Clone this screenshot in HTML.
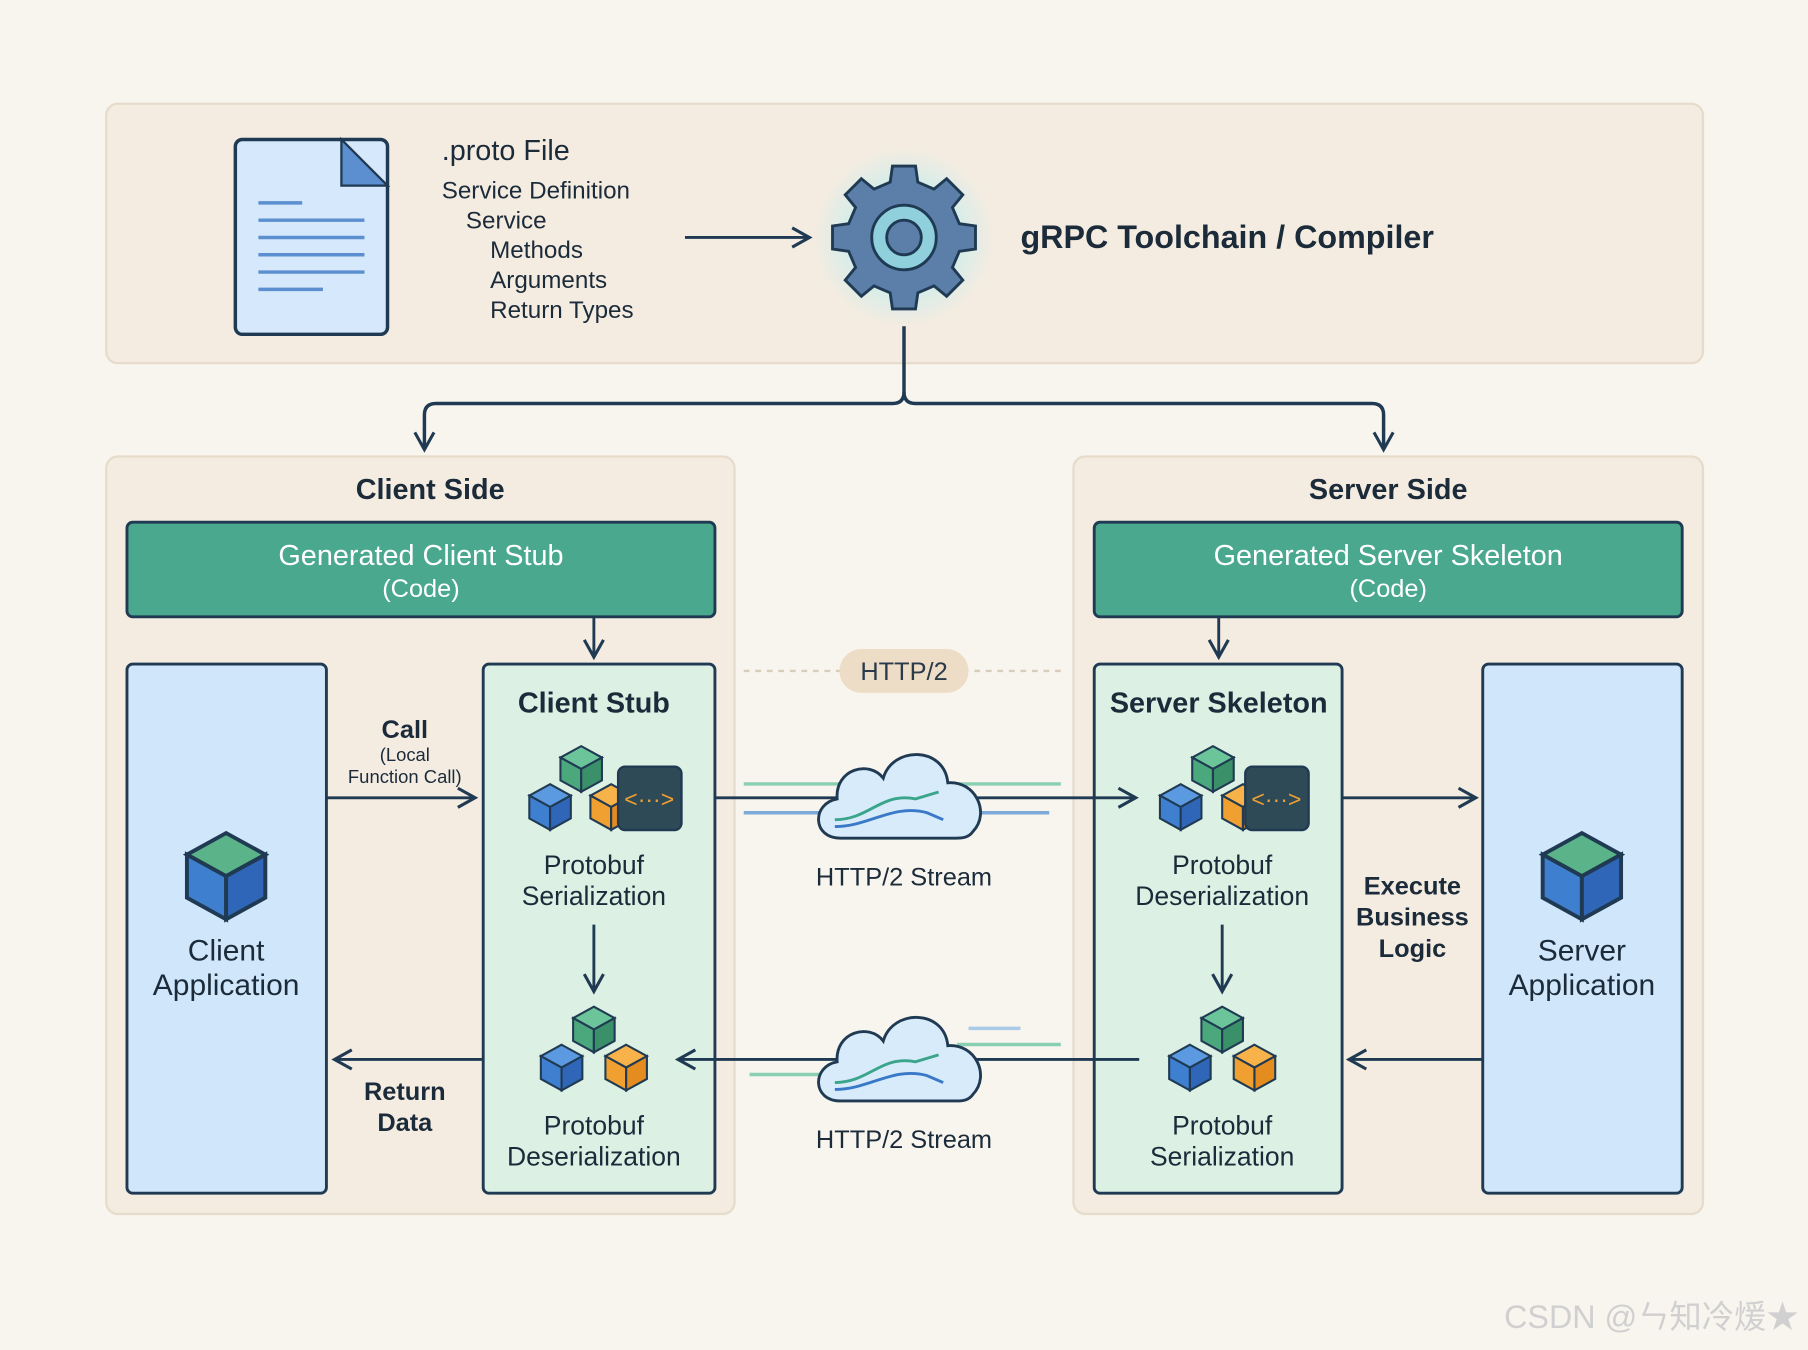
<!DOCTYPE html>
<html><head><meta charset="utf-8"><style>
html,body{margin:0;padding:0;background:#f8f5ee;}
svg{display:block;font-family:"Liberation Sans","Noto Sans CJK SC",sans-serif;}
</style></head><body>
<svg width="1808" height="1350" viewBox="0 0 1568 1171" xmlns="http://www.w3.org/2000/svg">
<defs>
<radialGradient id="glow"><stop offset="0.6" stop-color="#bfeef0" stop-opacity="0.6"/><stop offset="1" stop-color="#bfeef0" stop-opacity="0"/></radialGradient>
<marker id="ah2" viewBox="0 0 12 12" refX="10" refY="6" markerWidth="20" markerHeight="20" markerUnits="userSpaceOnUse" orient="auto"><path d="M1,1 L10,6 L1,11" fill="none" stroke="#1f3a52" stroke-width="1.6"/></marker>
<g id="cube">
<path d="M0,-22 L20,-11 L0,0 L-20,-11 Z" fill="#5bb38a" stroke="#1f3a52" stroke-width="2"/>
<path d="M-20,-11 L0,0 L0,22 L-20,11 Z" fill="#3f7fd0" stroke="#1f3a52" stroke-width="2"/>
<path d="M20,-11 L0,0 L0,22 L20,11 Z" fill="#2f66b8" stroke="#1f3a52" stroke-width="2"/>
</g>
<g id="cubeO">
<path d="M0,-22 L20,-11 L0,0 L-20,-11 Z" fill="#f7b24a" stroke="#1f3a52" stroke-width="2"/>
<path d="M-20,-11 L0,0 L0,22 L-20,11 Z" fill="#f0a030" stroke="#1f3a52" stroke-width="2"/>
<path d="M20,-11 L0,0 L0,22 L20,11 Z" fill="#e58c1f" stroke="#1f3a52" stroke-width="2"/>
</g>
<g id="cubeG">
<path d="M0,-22 L20,-11 L0,0 L-20,-11 Z" fill="#6cc59a" stroke="#1f3a52" stroke-width="2"/>
<path d="M-20,-11 L0,0 L0,22 L-20,11 Z" fill="#4aa87c" stroke="#1f3a52" stroke-width="2"/>
<path d="M20,-11 L0,0 L0,22 L20,11 Z" fill="#3a9068" stroke="#1f3a52" stroke-width="2"/>
</g>
<g id="cubeB">
<path d="M0,-22 L20,-11 L0,0 L-20,-11 Z" fill="#5b9ae0" stroke="#1f3a52" stroke-width="2"/>
<path d="M-20,-11 L0,0 L0,22 L-20,11 Z" fill="#3f7fd0" stroke="#1f3a52" stroke-width="2"/>
<path d="M20,-11 L0,0 L0,22 L20,11 Z" fill="#2f66b8" stroke="#1f3a52" stroke-width="2"/>
</g>
<g id="cloud">
<path d="M-55,30 C-80,30 -80,0 -58,-4 C-60,-30 -30,-38 -18,-22 C-10,-50 35,-50 38,-18 C62,-20 75,8 60,24 C56,30 50,30 45,30 Z" fill="#d7ebfa" stroke="#1f3a52" stroke-width="2.5"/>
<path d="M-60,14 C-30,14 -20,-10 10,-4 L30,-10" fill="none" stroke="#3aa58a" stroke-width="2.5"/>
<path d="M-60,20 C-30,20 -10,0 20,8 L34,14" fill="none" stroke="#3a78c8" stroke-width="2.5"/>
</g>
</defs>
<rect x="0" y="0" width="1568" height="1171" fill="#f8f5ee"/>
<rect x="92" y="90" width="1385" height="225" rx="10" fill="#f4ece1" stroke="#e7dccb" stroke-width="2"/>
<rect x="204" y="121" width="132" height="169" rx="6" fill="#d6e8fb" stroke="#1f3a52" stroke-width="3"/>
<path d="M296,121 L336,161 L296,161 Z" fill="#5b8fd0" stroke="#1f3a52" stroke-width="2"/>
<g stroke="#5b8fd0" stroke-width="3">
<line x1="224" y1="176" x2="262" y2="176"/><line x1="224" y1="191" x2="316" y2="191"/><line x1="224" y1="206" x2="316" y2="206"/><line x1="224" y1="221" x2="316" y2="221"/><line x1="224" y1="236" x2="316" y2="236"/><line x1="224" y1="251" x2="280" y2="251"/>
</g>
<g fill="#1c2b3a" font-size="21">
<text x="383" y="139" font-size="25">.proto File</text>
<text x="383" y="172">Service Definition</text>
<text x="404" y="198">Service</text>
<text x="425" y="224">Methods</text>
<text x="425" y="250">Arguments</text>
<text x="425" y="276">Return Types</text>
</g>
<line x1="594" y1="206" x2="702" y2="206" stroke="#1f3a52" stroke-width="2.5" marker-end="url(#ah2)"/>
<g transform="translate(784,206)">
<circle r="78" fill="url(#glow)"/>
<path d="M-10,-62 L10,-62 L12,-48 L26,-42 L37,-51 L51,-37 L42,-26 L48,-12 L62,-10 L62,10 L48,12 L42,26 L51,37 L37,51 L26,42 L12,48 L10,62 L-10,62 L-12,48 L-26,42 L-37,51 L-51,37 L-42,26 L-48,12 L-62,10 L-62,-10 L-48,-12 L-42,-26 L-51,-37 L-37,-51 L-26,-42 L-12,-48 Z" fill="#5b7fa8" stroke="#1f3a52" stroke-width="2.5"/>
<circle r="28" fill="#8fd0dc" stroke="#1f3a52" stroke-width="2.5"/>
<circle r="15" fill="#5b7fa8" stroke="#1f3a52" stroke-width="2.5"/>
</g>
<text x="885" y="215" font-size="28" fill="#1c2b3a" font-weight="600">gRPC Toolchain / Compiler</text>
<path d="M784,283 L784,340 Q784,350 774,350 L378,350 Q368,350 368,360 L368,390" fill="none" stroke="#1f3a52" stroke-width="3" marker-end="url(#ah2)"/>
<path d="M784,340 Q784,350 794,350 L1190,350 Q1200,350 1200,360 L1200,390" fill="none" stroke="#1f3a52" stroke-width="3" marker-end="url(#ah2)"/>
<rect x="92" y="396" width="545" height="657" rx="10" fill="#f4ece1" stroke="#e7dccb" stroke-width="2"/>
<rect x="931" y="396" width="546" height="657" rx="10" fill="#f4ece1" stroke="#e7dccb" stroke-width="2"/>
<text x="373" y="433" font-size="25" text-anchor="middle" fill="#1c2b3a" font-weight="600">Client Side</text>
<text x="1204" y="433" font-size="25" text-anchor="middle" fill="#1c2b3a" font-weight="600">Server Side</text>
<rect x="110" y="453" width="510" height="82" rx="5" fill="#4aa88f" stroke="#1f3a52" stroke-width="2.5"/>
<rect x="949" y="453" width="510" height="82" rx="5" fill="#4aa88f" stroke="#1f3a52" stroke-width="2.5"/>
<g fill="#fff" text-anchor="middle" font-size="25">
<text x="365" y="490">Generated Client Stub</text><text x="365" y="518" font-size="22">(Code)</text>
<text x="1204" y="490">Generated Server Skeleton</text><text x="1204" y="518" font-size="22">(Code)</text>
</g>
<line x1="515" y1="535" x2="515" y2="570" stroke="#1f3a52" stroke-width="2.5" marker-end="url(#ah2)"/>
<line x1="1057" y1="535" x2="1057" y2="570" stroke="#1f3a52" stroke-width="2.5" marker-end="url(#ah2)"/>
<rect x="110" y="576" width="173" height="459" rx="5" fill="#cfe6fb" stroke="#1f3a52" stroke-width="2.5"/>
<rect x="1286" y="576" width="173" height="459" rx="5" fill="#cfe6fb" stroke="#1f3a52" stroke-width="2.5"/>
<rect x="419" y="576" width="201" height="459" rx="5" fill="#dcf0e4" stroke="#1f3a52" stroke-width="2.5"/>
<rect x="949" y="576" width="215" height="459" rx="5" fill="#dcf0e4" stroke="#1f3a52" stroke-width="2.5"/>
<use href="#cube" transform="translate(196,760) scale(1.7)"/>
<use href="#cube" transform="translate(1372,760) scale(1.7)"/>
<g fill="#1c2b3a" font-size="26" text-anchor="middle">
<text x="196" y="833">Client</text><text x="196" y="863">Application</text>
<text x="1372" y="833">Server</text><text x="1372" y="863">Application</text>
</g>
<g fill="#1c2b3a" font-size="25" text-anchor="middle" font-weight="600">
<text x="515" y="618">Client Stub</text>
<text x="1057" y="618">Server Skeleton</text>
</g>
<g fill="#1c2b3a" font-size="23" text-anchor="middle">
<text x="515" y="758">Protobuf</text><text x="515" y="785">Serialization</text>
<text x="515" y="984">Protobuf</text><text x="515" y="1011">Deserialization</text>
<text x="1060" y="758">Protobuf</text><text x="1060" y="785">Deserialization</text>
<text x="1060" y="984">Protobuf</text><text x="1060" y="1011">Serialization</text>
</g>
<use href="#cubeG" transform="translate(504,667) scale(0.9)"/>
<use href="#cubeB" transform="translate(477,700) scale(0.9)"/>
<use href="#cubeO" transform="translate(530,700) scale(0.9)"/>
<rect x="536" y="665" width="55" height="55" rx="6" fill="#2e4a56" stroke="#1f3a52" stroke-width="2"/>
<text x="563" y="700" font-size="20" fill="#f0a030" text-anchor="middle">&lt;···&gt;</text>
<use href="#cubeG" transform="translate(1052,667) scale(0.9)"/>
<use href="#cubeB" transform="translate(1024,700) scale(0.9)"/>
<use href="#cubeO" transform="translate(1078,700) scale(0.9)"/>
<rect x="1080" y="665" width="55" height="55" rx="6" fill="#2e4a56" stroke="#1f3a52" stroke-width="2"/>
<text x="1107" y="700" font-size="20" fill="#f0a030" text-anchor="middle">&lt;···&gt;</text>
<use href="#cubeG" transform="translate(515,893) scale(0.9)"/>
<use href="#cubeB" transform="translate(487,926) scale(0.9)"/>
<use href="#cubeO" transform="translate(543,926) scale(0.9)"/>
<use href="#cubeG" transform="translate(1060,893) scale(0.9)"/>
<use href="#cubeB" transform="translate(1032,926) scale(0.9)"/>
<use href="#cubeO" transform="translate(1088,926) scale(0.9)"/>
<line x1="515" y1="802" x2="515" y2="860" stroke="#1f3a52" stroke-width="2.5" marker-end="url(#ah2)"/>
<line x1="1060" y1="802" x2="1060" y2="860" stroke="#1f3a52" stroke-width="2.5" marker-end="url(#ah2)"/>
<line x1="283" y1="692" x2="412" y2="692" stroke="#1f3a52" stroke-width="2.5" marker-end="url(#ah2)"/>
<text x="351" y="640" font-size="22" text-anchor="middle" fill="#1c2b3a" font-weight="600">Call</text>
<text x="351" y="660" font-size="16" text-anchor="middle" fill="#1c2b3a">(Local</text>
<text x="351" y="679" font-size="16" text-anchor="middle" fill="#1c2b3a">Function Call)</text>
<line x1="419" y1="919" x2="290" y2="919" stroke="#1f3a52" stroke-width="2.5" marker-end="url(#ah2)"/>
<text x="351" y="954" font-size="22" text-anchor="middle" fill="#1c2b3a" font-weight="600">Return</text>
<text x="351" y="981" font-size="22" text-anchor="middle" fill="#1c2b3a" font-weight="600">Data</text>
<line x1="1164" y1="692" x2="1280" y2="692" stroke="#1f3a52" stroke-width="2.5" marker-end="url(#ah2)"/>
<line x1="1286" y1="919" x2="1170" y2="919" stroke="#1f3a52" stroke-width="2.5" marker-end="url(#ah2)"/>
<g fill="#1c2b3a" font-size="22" text-anchor="middle" font-weight="600">
<text x="1225" y="776">Execute</text><text x="1225" y="803">Business</text><text x="1225" y="830">Logic</text>
</g>
<line x1="645" y1="582" x2="925" y2="582" stroke="#d8cdbb" stroke-width="2" stroke-dasharray="5,5"/>
<rect x="728" y="563" width="112" height="38" rx="19" fill="#eeddc6"/>
<text x="784" y="590" font-size="22" text-anchor="middle" fill="#2a3a4a">HTTP/2</text>
<line x1="620" y1="692" x2="985" y2="692" stroke="#1f3a52" stroke-width="2.5" marker-end="url(#ah2)"/>
<line x1="645" y1="680" x2="920" y2="680" stroke="#5bbf9a" stroke-width="3" opacity="0.7"/>
<line x1="645" y1="705" x2="910" y2="705" stroke="#4a8ad0" stroke-width="3" opacity="0.7"/>
<use href="#cloud" transform="translate(784,697)"/>
<text x="784" y="768" font-size="22" text-anchor="middle" fill="#1c2b3a">HTTP/2 Stream</text>
<line x1="988" y1="919" x2="588" y2="919" stroke="#1f3a52" stroke-width="2.5" marker-end="url(#ah2)"/>
<line x1="650" y1="932" x2="740" y2="932" stroke="#5bbf9a" stroke-width="3" opacity="0.7"/>
<line x1="830" y1="906" x2="920" y2="906" stroke="#5bbf9a" stroke-width="3" opacity="0.7"/>
<line x1="840" y1="892" x2="885" y2="892" stroke="#8ab8e6" stroke-width="3" opacity="0.7"/>
<use href="#cloud" transform="translate(784,925)"/>
<text x="784" y="996" font-size="22" text-anchor="middle" fill="#1c2b3a">HTTP/2 Stream</text>
<text x="1560" y="1152" font-size="28" text-anchor="end" fill="#d0d0d0">CSDN @ㄣ知冷煖★</text>
</svg>
</body></html>
